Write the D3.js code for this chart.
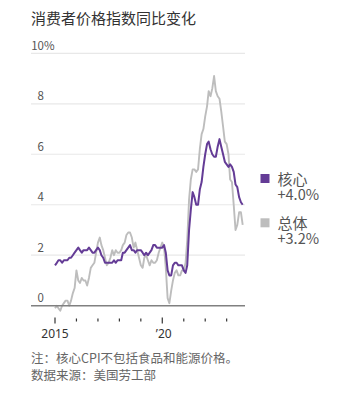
<!DOCTYPE html>
<html><head><meta charset="utf-8">
<script src="https://cdn.jsdelivr.net/npm/d3@7"></script>
<style>
html,body{margin:0;padding:0;background:#fff;}
svg{display:block;font-family:"Noto Sans CJK SC","Noto Sans",sans-serif;}
</style></head>
<body>
<svg id="c" width="355" height="398"></svg>
<script>
// Monthly year-over-year change, Jan 2015 – Oct 2023
const startYear = 2015;
const headline = [
 -0.1,0.0,-0.1,-0.2,0.0,0.1,0.2,0.2,0.0,0.2,0.5,0.7,
 1.4,1.0,0.9,1.1,1.0,1.0,0.8,1.1,1.5,1.6,1.7,2.1,
 2.5,2.7,2.4,2.2,1.9,1.6,1.7,1.9,2.2,2.0,2.2,2.1,
 2.1,2.2,2.4,2.5,2.8,2.9,2.9,2.7,2.3,2.5,2.2,1.9,
 1.6,1.5,1.9,2.0,1.8,1.6,1.8,1.7,1.7,1.8,2.1,2.3,
 2.5,2.3,1.5,0.3,0.1,0.6,1.0,1.3,1.4,1.2,1.2,1.4,
 1.4,1.7,2.6,4.2,5.0,5.4,5.4,5.3,5.4,6.2,6.8,7.0,
 7.5,7.9,8.5,8.3,8.6,9.1,8.5,8.3,8.2,7.7,7.1,6.5,
 6.4,6.0,5.0,4.9,4.0,3.0,3.2,3.7,3.7,3.2
];
const core = [
 1.6,1.7,1.8,1.8,1.7,1.8,1.8,1.8,1.9,1.9,2.0,2.1,
 2.2,2.3,2.2,2.1,2.2,2.2,2.2,2.3,2.2,2.1,2.1,2.2,
 2.3,2.2,2.0,1.9,1.7,1.7,1.7,1.7,1.7,1.8,1.7,1.8,
 1.8,1.8,2.1,2.1,2.2,2.3,2.4,2.2,2.2,2.1,2.2,2.2,
 2.2,2.1,2.0,2.1,2.0,2.1,2.2,2.4,2.4,2.3,2.3,2.3,
 2.3,2.4,2.1,1.4,1.2,1.2,1.6,1.7,1.7,1.6,1.6,1.6,
 1.4,1.3,1.6,3.0,3.8,4.5,4.3,4.0,4.0,4.6,4.9,5.5,
 6.0,6.4,6.5,6.2,6.0,5.9,5.9,6.3,6.6,6.3,6.0,5.7,
 5.6,5.5,5.6,5.5,5.3,4.8,4.7,4.3,4.1,4.0
];
const yTicks = [0,2,4,6,8,10];
const xTickYears = [2015,2016,2017,2018,2019,2020,2021,2022,2023];
const xLabels = {2015:"2015", 2020:"\u201920"};
const seriesNames = ["核心","总体"];
const seriesLabels = ["+4.0%","+3.2%"];
const title = "消费者价格指数同比变化";
const notes = ["注：核心CPI不包括食品和能源价格。","数据来源：美国劳工部"];

const purple = "#643c96", gray = "#bdbdbd";
const svg = d3.select("#c");
const gridL = 31, gridR = 245;
const x = d3.scaleTime().domain([new Date(2015,0,1), new Date(2024,0,1)]).range([55, 248.1]);
const y = d3.scaleLinear().domain([0,10]).range([305.7, 53.3]);
const dateOf = i => new Date(startYear + Math.floor(i/12), i%12, 1);

svg.append("text").attr("x",31).attr("y",24).attr("font-size",15).attr("fill","#333").text(title);

// grid
svg.selectAll("line.g").data(yTicks.filter(d=>d>0)).join("line")
  .attr("x1",gridL).attr("x2",gridR).attr("y1",d=>y(d)).attr("y2",d=>y(d))
  .attr("stroke","#e8e8e8").attr("stroke-width",1.2);
svg.selectAll("text.yl").data(yTicks).join("text")
  .attr("x",44).attr("y",d=>y(d)-3.5).attr("font-size",11.5).attr("fill","#555")
  .attr("text-anchor","end").text(d=>d);
svg.append("text").attr("x",44).attr("y",y(10)-3.5).attr("font-size",11.5).attr("fill","#555").text("%");

// lines
const line = d3.line().x((d,i)=>x(dateOf(i))).y(d=>y(d)).curve(d3.curveLinear);
svg.append("path").datum(headline).attr("d",line).attr("fill","none").attr("stroke",gray).attr("stroke-width",1.9).attr("stroke-linejoin","round");
svg.append("path").datum(core).attr("d",line).attr("fill","none").attr("stroke",purple).attr("stroke-width",2).attr("stroke-linejoin","round");

// baseline
svg.append("line").attr("x1",gridL).attr("x2",gridR).attr("y1",y(0)).attr("y2",y(0)).attr("stroke","#808080").attr("stroke-width",1.6);

// x ticks
svg.selectAll("line.xt").data(xTickYears).join("line")
  .attr("x1",d=>x(new Date(d,0,1))).attr("x2",d=>x(new Date(d,0,1)))
  .attr("y1",d=>xLabels[d]?317.5:318.5).attr("y2",d=>xLabels[d]?323.5:321.5)
  .attr("stroke","#333").attr("stroke-width",1.2);
svg.selectAll("text.xl").data(xTickYears.filter(d=>xLabels[d])).join("text")
  .attr("x",d=>x(new Date(d,0,1)) + (d===2020?1.5:0)).attr("y",338).attr("text-anchor","middle")
  .attr("font-family","'Noto Sans',sans-serif")
  .attr("font-size",12).attr("fill","#333").text(d=>xLabels[d]);

// legend
const lg = [{c:purple,n:seriesNames[0],v:seriesLabels[0],y:174},{c:gray,n:seriesNames[1],v:seriesLabels[1],y:218.3}];
lg.forEach(d=>{
  svg.append("rect").attr("x",260.5).attr("y",d.y).attr("width",9).attr("height",9).attr("fill",d.c);
  const t = svg.append("text").attr("x",277.5).attr("y",d.y+10.5).attr("fill","#555");
  t.append("tspan").attr("x",277.5).attr("font-size",15).text(d.n);
  t.append("tspan").attr("x",277.5).attr("dy",15.5).attr("font-size",14.5).text(d.v);
});

// notes
const nt = svg.append("text").attr("x",31).attr("y",363).attr("font-size",12.5).attr("fill","#666");
notes.forEach((s,i)=>nt.append("tspan").attr("x",31).attr("dy",i?17:0).text(s));
</script>
</body></html>
